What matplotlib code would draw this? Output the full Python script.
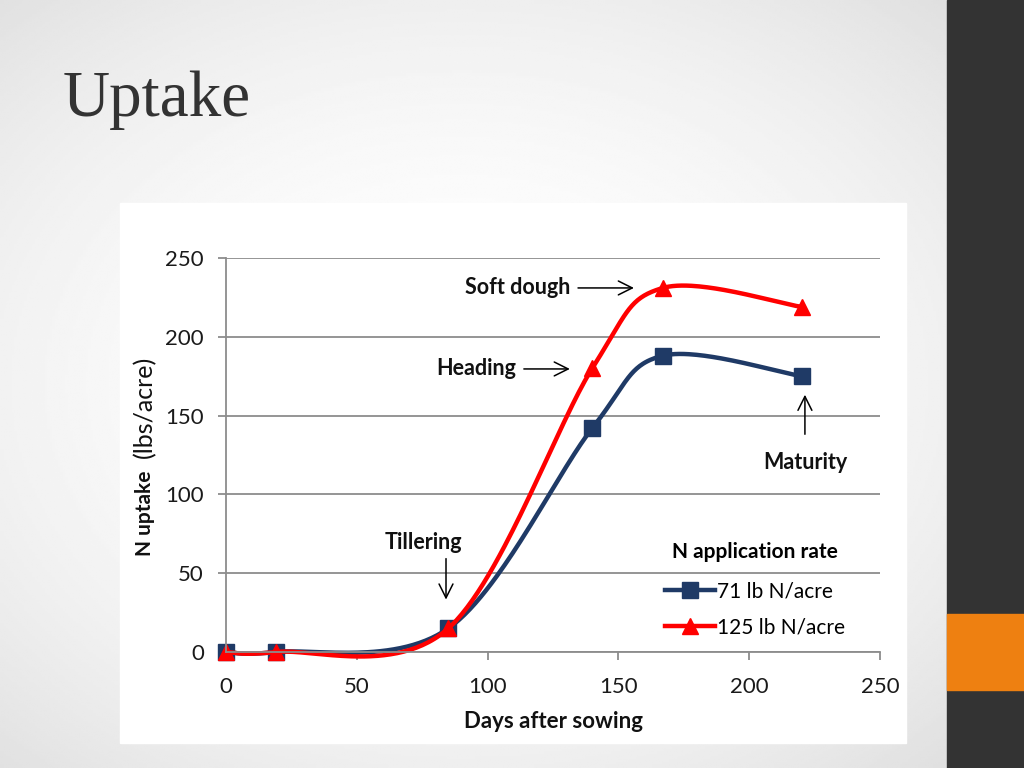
import numpy as np
import matplotlib.pyplot as plt
from matplotlib.patches import Rectangle

# dati
days = [0, 19, 85, 140, 167, 220]
uptake_71 = [0, 0, 15, 142, 188, 175]
uptake_125 = [0, 0, 15, 180, 231, 219]
series_labels = ["71 lb N/acre", "125 lb N/acre"]
x_ticks = [0, 50, 100, 150, 200, 250]
y_ticks = [0, 50, 100, 150, 200, 250]
stages = ["Soft dough", "Heading", "Maturity", "Tillering"]


def smooth(xs, ys, n=60):
    # curva "smoothed" tipo Excel: Bezier con punti di controllo Catmull-Rom
    p = np.column_stack([xs, ys]).astype(float)
    p = np.vstack([p[0], p, p[-1]])
    out = []
    t = np.linspace(0, 1, n)[:, None]
    for i in range(1, len(p) - 2):
        a, b = p[i], p[i + 1]
        c1 = a + (p[i + 1] - p[i - 1]) / 6
        c2 = b - (p[i + 2] - p[i]) / 6
        seg = (1 - t) ** 3 * a + 3 * (1 - t) ** 2 * t * c1 + 3 * (1 - t) * t ** 2 * c2 + t ** 3 * b
        out.append(seg)
    seg = np.vstack(out)
    return seg[:, 0], seg[:, 1]


fig = plt.figure(figsize=(10.24, 7.68), dpi=100)

# sfondo con gradiente radiale
bg = fig.add_axes([0, 0, 1, 1])
gx, gy = np.meshgrid(np.linspace(-1, 1, 400), np.linspace(-1, 1, 300))
r = np.sqrt(((gx + 0.1) * 0.85) ** 2 + (gy * 0.85) ** 2)
bg.imshow(1 - 0.09 * np.clip(r, 0, 1.3) ** 2, cmap="gray", vmin=0, vmax=1,
          extent=[0, 1, 0, 1], aspect="auto")
bg.add_patch(Rectangle((947 / 1024, 0), 77 / 1024, 1, color="#333333"))
bg.add_patch(Rectangle((947 / 1024, 78 / 768), 77 / 1024, 76 / 768, color="#EE8011"))
bg.add_patch(Rectangle((120 / 1024, 25 / 768), 786 / 1024, 540 / 768, color="white"))
bg.set_xlim(0, 1)
bg.set_ylim(0, 1)
bg.axis("off")

fig.text(63 / 1024, 1 - 100 / 768, "Uptake", family="Liberation Serif",
         fontsize=47, color="#333333", va="center")

ax = fig.add_axes([226 / 1024, 1 - 652 / 768, 654 / 1024, 394 / 768])
ax.set_facecolor("none")
ax.set_xlim(0, 250)
ax.set_ylim(0, 250)
ax.set_xticks(x_ticks)
ax.set_yticks(y_ticks)
ax.grid(axis="y", color="#8c8c8c", linewidth=1.3)
ax.set_axisbelow(True)
for s in ["top", "right"]:
    ax.spines[s].set_visible(False)
for s in ["left", "bottom"]:
    ax.spines[s].set_color("#8c8c8c")
    ax.spines[s].set_linewidth(1.3)
ax.tick_params(length=6, width=1.3, color="#8c8c8c", labelsize=16,
               labelcolor="#1a1a1a")
ax.tick_params(axis="x", pad=12)
ax.tick_params(axis="y", pad=10)
for lab in ax.get_xticklabels() + ax.get_yticklabels():
    lab.set_family("Lato")

sx, sy = smooth(days, uptake_71)
ax.plot(sx, sy, color="#1F3A66", lw=3.2, clip_on=False)
ax.plot(days, uptake_71, "s", color="#1F3A66", ms=12, clip_on=False)
ax.plot([], [], "-s", color="#1F3A66", lw=3.2, ms=11, label=series_labels[0])

sx, sy = smooth(days, uptake_125)
ax.plot(sx, sy, color="#FF0000", lw=3.2, clip_on=False)
ax.plot(days, uptake_125, "^", color="#FF0000", ms=12, clip_on=False)
ax.plot([], [], "-^", color="#FF0000", lw=3.2, ms=11, label=series_labels[1])

leg = ax.legend(loc="lower right", bbox_to_anchor=(0.975, -0.01), frameon=False,
                title="N application rate", handlelength=2.4, handletextpad=0.1,
                labelspacing=0.75, prop={"family": "Lato", "size": 15})
leg.get_title().set_fontproperties({"family": "Lato", "weight": "bold", "size": 15})
leg._legend_box.sep = 14

ann = dict(fontsize=15.5, fontweight="bold", family="Lato", color="#111111")
arr = dict(arrowstyle="->", color="black", lw=1.1, mutation_scale=25)
ax.annotate("", xy=(157, 231), xytext=(133.5, 231), arrowprops=arr)
ax.text(131.5, 231, stages[0], ha="right", va="center", **ann)
ax.annotate("", xy=(132.5, 179.6), xytext=(112.8, 179.6), arrowprops=arr)
ax.text(111, 179.6, stages[1], ha="right", va="center", **ann)
ax.annotate("", xy=(221.3, 165), xytext=(221.3, 136.4), arrowprops=arr)
ax.text(221.3, 120, stages[2], ha="center", va="center", **ann)
ax.annotate("", xy=(84.1, 31.5), xytext=(84.1, 61), arrowprops=arr)
ax.text(75.5, 69.2, stages[3], ha="center", va="center", **ann)

ax.set_xlabel("Days after sowing", family="Lato", fontweight="bold",
              fontsize=16, color="#111111", labelpad=10)
ax.text(-0.124, 0.352, "N uptake", rotation=90, transform=ax.transAxes,
        ha="center", va="center", family="Lato", fontweight="bold",
        fontsize=15, color="#111111")
ax.text(-0.124, 0.622, "(lbs/acre)", rotation=90, transform=ax.transAxes,
        ha="center", va="center", family="Lato", fontsize=18, color="#111111")

fig.savefig("out.png", dpi=100)
